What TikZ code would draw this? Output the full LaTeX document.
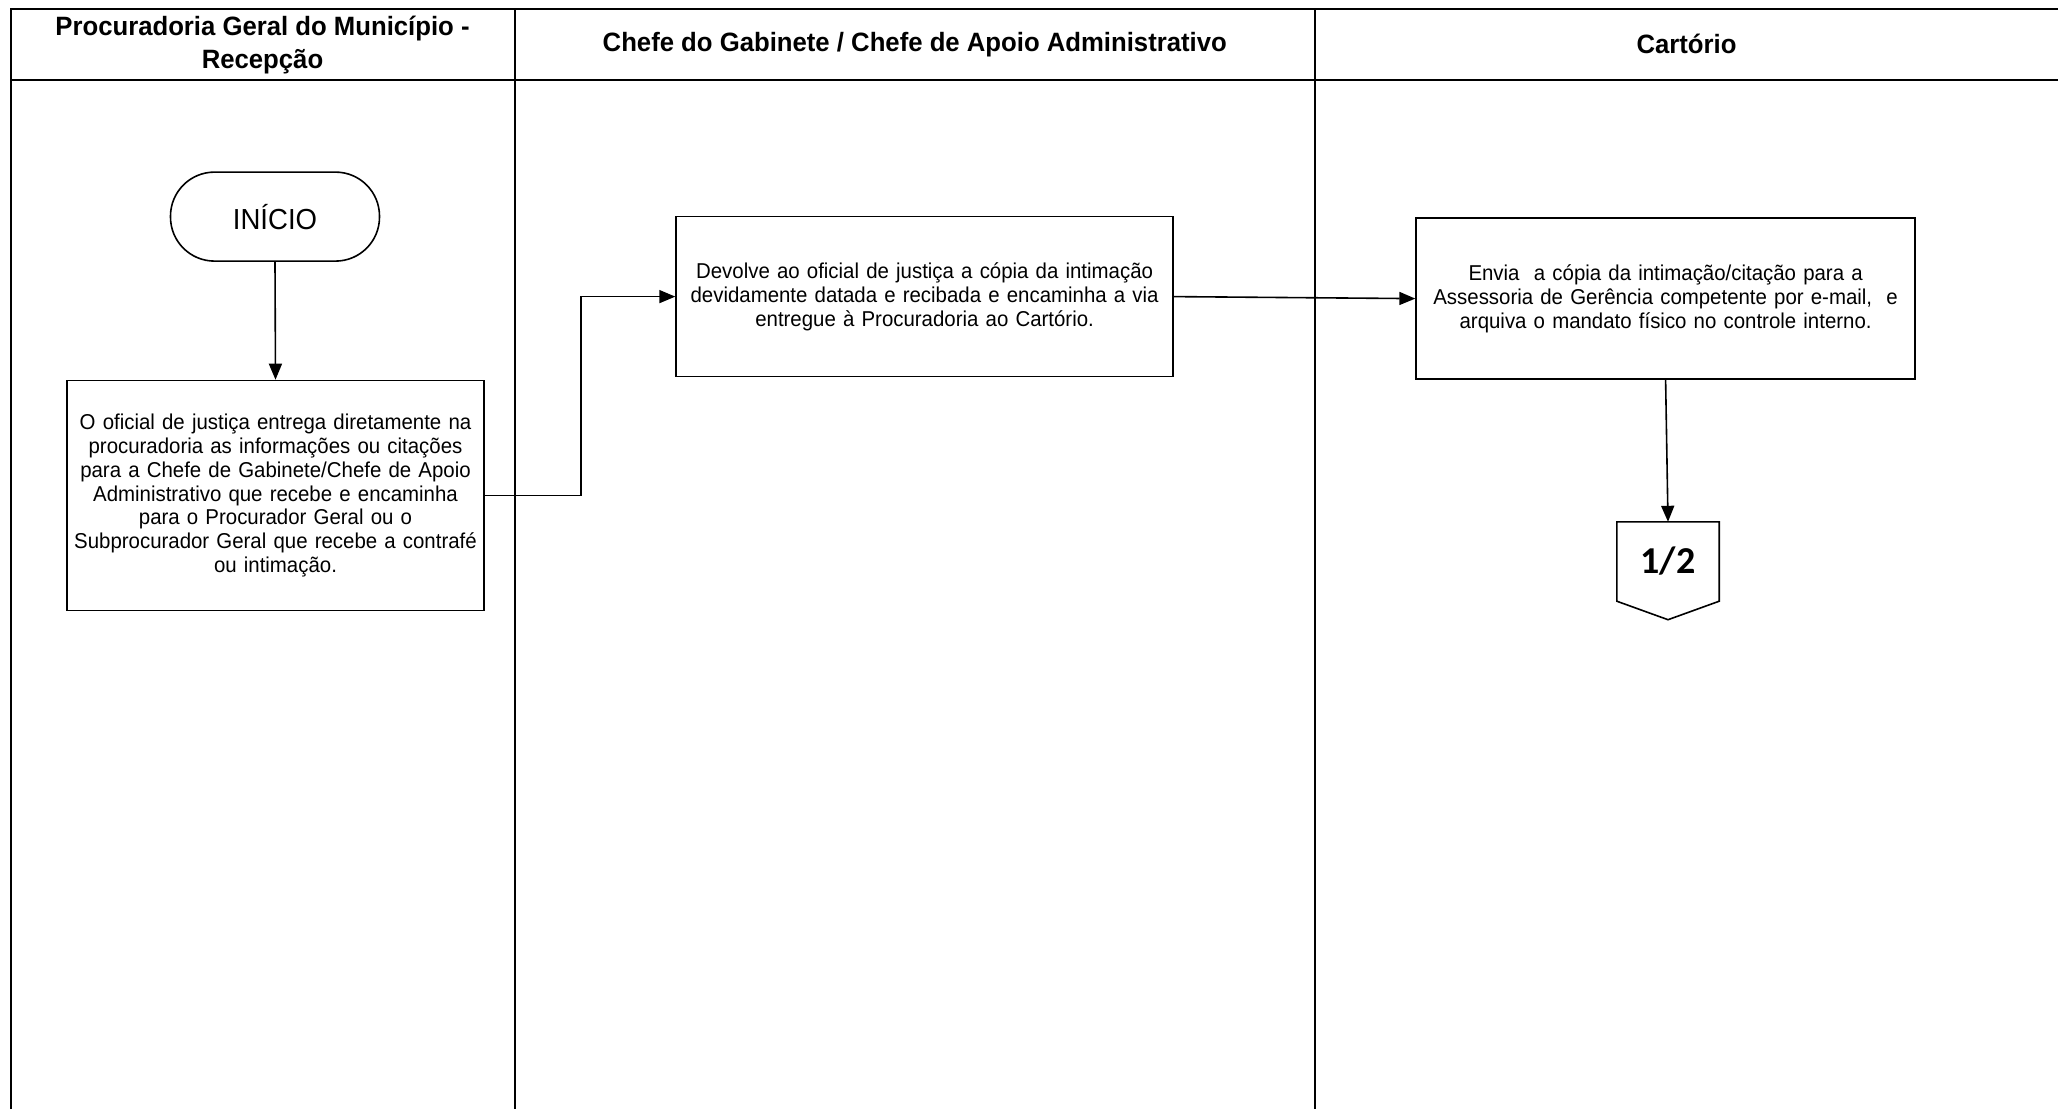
\documentclass[tikz,border=0pt]{standalone}
\usepackage{fontspec}
\setmainfont{Liberation Sans}
\newfontfamily\bodyfont{Liberation Sans}[FakeStretch=0.95,WordSpace=0.75]
\newfontfamily\headfont{Liberation Sans}[FakeStretch=0.97]
\newfontfamily\tagfont{Carlito}
\usetikzlibrary{arrows.meta,calc}

\begin{document}
\begin{tikzpicture}[x=1pt,y=-1pt,
  lane/.style={line width=2pt},
  head/.style={font=\headfont\bfseries\fontsize{26.5}{33}\selectfont, align=center},
  stepbox/.style={draw, line width=1.6pt, align=center, inner sep=0pt,
    font=\bodyfont\fontsize{21.5}{23.8}\selectfont},
  term/.style={draw, line width=1.6pt, rounded corners=44pt, inner sep=0pt,
    minimum width=209pt, minimum height=89pt,
    font=\bodyfont\fontsize{29}{31}\selectfont},
  arr/.style={line width=1.6pt, -{Triangle[length=16pt,width=13pt]}},
  link/.style={line width=1.6pt}
]
\useasboundingbox (0,0) rectangle (2058,1109);
\fill[white] (0,0) rectangle (2058,1109);

% swimlane frame
\draw[lane] (10.5,1109) -- (10.5,9) -- (2058,9);
\draw[lane] (10.5,80) -- (2058,80);
\draw[lane] (514.5,9) -- (514.5,1109);
\draw[lane] (1315,9) -- (1315,1109);

% lane titles
\node[head] (h1) at (262.5,45) {Procuradoria Geral do Município -\\Recepção};
\node[head] (h2) at (914.75,44.5) {Chefe do Gabinete / Chefe de Apoio Administrativo};
\node[head] (h3) at (1686.5,44) {Cartório};

% flow steps
\node[term] (start) at (275,216.6) {INÍCIO};

\node[stepbox, minimum width=417pt, minimum height=230pt, text width=412pt] (b1) at (275.5,495.5)
  {O oficial de justiça entrega diretamente na\\
   procuradoria as informações ou citações\\
   para a Chefe de Gabinete/Chefe de Apoio\\
   Administrativo que recebe e encaminha\\
   para o Procurador Geral ou o\\
   Subprocurador Geral que recebe a contrafé\\
   ou intimação.};

\node[stepbox, minimum width=497pt, minimum height=160pt, text width=492pt] (b2) at (924.6,296.6)
  {Devolve ao oficial de justiça a cópia da intimação\\
   devidamente datada e recibada e encaminha a via\\
   entregue à Procuradoria ao Cartório.};

\node[stepbox, minimum width=499pt, minimum height=161pt, text width=492pt] (b3) at (1665.6,298.6)
  {Envia\ \ a cópia da intimação/citação para a\\
   Assessoria de Gerência competente por e-mail,\ \ e\\
   arquiva o mandato físico no controle interno.};

% off-page connector
\node[inner sep=0pt, minimum width=102pt, minimum height=79pt,
      font=\tagfont\bfseries\fontsize{38}{38}\selectfont] (off) at (1668,561.5) {\raisebox{-2pt}{1/2}};
\draw[link, line join=miter] (off.north west) -- (off.north east) -- (off.south east)
  -- ($(off.south)+(0,18.5)$) -- (off.south west) -- cycle;

% connectors
\draw[arr] (start.south) -- (b1.north);
\draw[arr] (b1.east) -- ++(96,0) |- (b2.west);
\draw[arr] (b2.east) -- (b3.west);
\draw[arr] (b3.south) -- (off.north);
\end{tikzpicture}
\end{document}
